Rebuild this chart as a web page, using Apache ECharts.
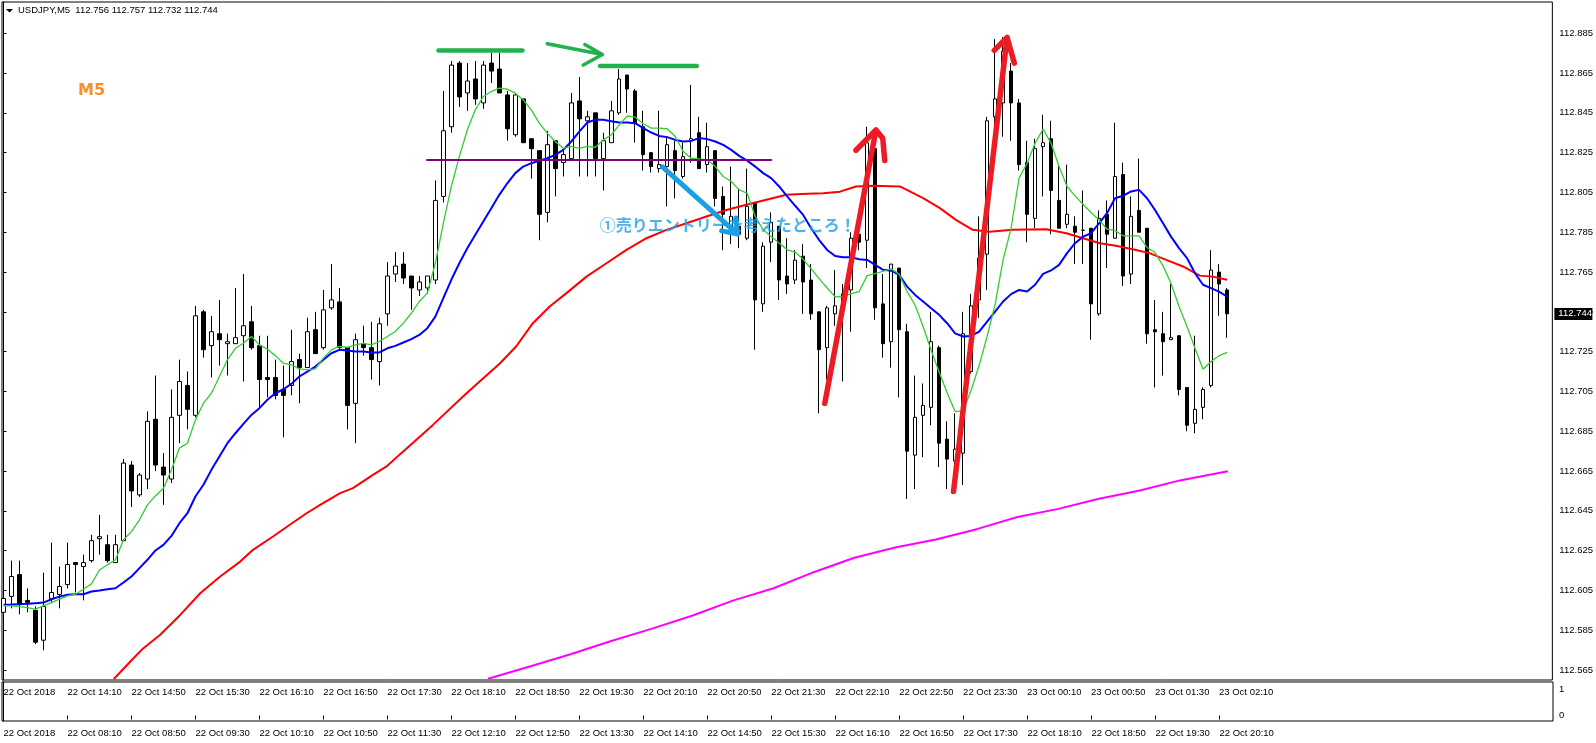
<!DOCTYPE html>
<html><head><meta charset="utf-8">
<script src="https://cdn.jsdelivr.net/npm/echarts@6/dist/echarts.min.js"></script>
<style>html,body{margin:0;padding:0;background:#fff;}#c{width:1596px;height:743px;}</style>
</head><body><div id="c"></div>
<script>
const symbolName = 'USDJPY,M5';
const frameLabel = 'M5';
// one row per 5-minute bar, 22 Oct 13:30 .. 23 Oct 02:15 : [open, high, low, close]
const candles = [
[112.594,112.605,112.589,112.601],[112.602,112.620,112.596,112.612],[112.613,112.620,112.593,112.598],[112.600,112.606,112.594,112.599],
[112.595,112.597,112.578,112.579],[112.580,112.614,112.575,112.597],[112.601,112.629,112.599,112.604],[112.603,112.617,112.596,112.607],
[112.608,112.629,112.606,112.618],[112.619,112.619,112.604,112.618],[112.617,112.623,112.600,112.619],[112.620,112.633,112.619,112.630],
[112.631,112.643,112.623,112.632],[112.628,112.633,112.619,112.620],[112.619,112.633,112.619,112.628],[112.630,112.671,112.630,112.669],
[112.668,112.670,112.647,112.655],[112.653,112.664,112.652,112.663],[112.661,112.695,112.656,112.690],[112.691,112.713,112.665,112.668],
[112.667,112.674,112.648,112.663],[112.661,112.706,112.659,112.692],[112.693,112.721,112.679,112.710],[112.708,112.715,112.686,112.696],
[112.693,112.748,112.692,112.743],[112.745,112.746,112.722,112.726],[112.728,112.743,112.712,112.735],[112.734,112.751,112.718,112.731],
[112.729,112.734,112.713,112.730],[112.729,112.757,112.729,112.732],[112.733,112.764,112.710,112.738],[112.740,112.748,112.726,112.727],
[112.728,112.733,112.697,112.711],[112.712,112.733,112.702,112.711],[112.712,112.721,112.701,112.703],[112.706,112.718,112.682,112.703],
[112.708,112.736,112.703,112.720],[112.721,112.724,112.699,112.717],[112.717,112.742,112.717,112.735],[112.736,112.745,112.724,112.724],
[112.727,112.756,112.726,112.746],[112.747,112.769,112.746,112.751],[112.750,112.757,112.726,112.727],[112.727,112.727,112.686,112.698],
[112.699,112.734,112.679,112.731],[112.729,112.738,112.723,112.727],[112.727,112.740,112.711,112.721],[112.720,112.742,112.708,112.739],
[112.744,112.770,112.738,112.763],[112.764,112.775,112.760,112.768],[112.769,112.775,112.759,112.762],[112.763,112.763,112.746,112.757],
[112.756,112.763,112.753,112.760],[112.757,112.763,112.754,112.763],[112.761,112.811,112.759,112.801],[112.803,112.856,112.800,112.836],
[112.838,112.871,112.835,112.869],[112.870,112.871,112.848,112.853],[112.855,112.870,112.846,112.861],[112.862,112.871,112.849,112.852],
[112.850,112.871,112.847,112.869],[112.870,112.875,112.860,112.866],[112.867,112.875,112.855,112.855],[112.854,112.856,112.831,112.837],
[112.834,112.855,112.833,112.854],[112.852,112.852,112.830,112.830],[112.832,112.832,112.812,112.827],[112.826,112.826,112.781,112.794],
[112.795,112.836,112.790,112.829],[112.831,112.831,112.803,112.817],[112.820,112.827,112.813,112.824],[112.822,112.855,112.822,112.850],
[112.851,112.863,112.813,112.842],[112.841,112.846,112.813,112.843],[112.845,112.845,112.813,112.822],[112.822,112.835,112.806,112.831],
[112.830,112.851,112.830,112.846],[112.845,112.867,112.844,112.862],[112.864,112.864,112.845,112.857],[112.856,112.857,112.830,112.840],
[112.838,112.846,112.816,112.824],[112.825,112.825,112.815,112.818],[112.817,112.846,112.815,112.819],[112.818,112.833,112.798,112.829],
[112.826,112.831,112.802,112.816],[112.813,112.830,112.812,112.823],[112.831,112.859,112.820,112.832],[112.835,112.843,112.817,112.817],
[112.819,112.840,112.815,112.828],[112.826,112.826,112.798,112.802],[112.803,112.808,112.776,112.794],[112.786,112.818,112.779,112.793],
[112.788,112.807,112.777,112.784],[112.782,112.817,112.781,112.798],[112.800,112.800,112.726,112.751],[112.749,112.780,112.745,112.778],
[112.780,112.795,112.770,112.790],[112.788,112.788,112.751,112.761],[112.763,112.782,112.754,112.759],[112.761,112.776,112.759,112.771],
[112.773,112.779,112.744,112.760],[112.761,112.769,112.741,112.744],[112.745,112.745,112.694,112.726],[112.727,112.748,112.711,112.747],
[112.744,112.766,112.738,112.748],[112.754,112.759,112.710,112.747],[112.756,112.785,112.735,112.782],[112.784,112.790,112.776,112.780],
[112.781,112.838,112.767,112.830],[112.827,112.837,112.741,112.747],[112.749,112.764,112.722,112.729],[112.730,112.769,112.717,112.769],
[112.767,112.767,112.702,112.736],[112.735,112.739,112.651,112.675],[112.673,112.713,112.656,112.692],[112.693,112.709,112.672,112.698],
[112.697,112.745,112.688,112.730],[112.727,112.728,112.667,112.679],[112.681,112.690,112.656,112.671],[112.670,112.694,112.656,112.676],
[112.674,112.745,112.658,112.734],[112.715,112.754,112.714,112.748],[112.751,112.793,112.742,112.772],[112.774,112.843,112.756,112.841],
[112.843,112.882,112.833,112.852],[112.850,112.883,112.833,112.876],[112.866,112.870,112.831,112.850],[112.850,112.852,112.816,112.819],
[112.820,112.831,112.780,112.794],[112.792,112.832,112.787,112.827],[112.828,112.844,112.803,112.830],[112.832,112.841,112.784,112.806],
[112.801,112.819,112.787,112.787],[112.789,112.819,112.787,112.794],[112.788,112.793,112.769,112.785],[112.786,112.806,112.769,112.786],
[112.787,112.787,112.731,112.749],[112.744,112.796,112.743,112.792],[112.794,112.801,112.767,112.784],[112.782,112.840,112.782,112.813],
[112.814,112.820,112.758,112.763],[112.764,112.803,112.759,112.793],[112.796,112.822,112.785,112.785],[112.787,112.787,112.729,112.734],
[112.736,112.751,112.707,112.735],[112.734,112.745,112.713,112.730],[112.731,112.759,112.731,112.732],[112.733,112.733,112.703,112.706],
[112.707,112.707,112.685,112.688],[112.689,112.733,112.684,112.696],[112.697,112.707,112.691,112.706],[112.708,112.776,112.707,112.766],
[112.765,112.769,112.743,112.759],[112.756,112.757,112.732,112.744]
];
// moving averages (one value per bar)
const maGreen = [
112.5973,112.5973,112.5969,112.5964,112.5956,112.5973,112.5989,112.6006,112.6023,112.6031,112.6056,112.6083,112.6153,112.6179,112.6204,112.6304,112.6346,112.6405,112.6480,112.6525,
112.6564,112.6656,112.6765,112.6790,112.6907,112.6991,112.7041,112.7125,112.7209,112.7267,112.7292,112.7326,112.7284,112.7262,112.7230,112.7192,112.7184,112.7163,112.7158,112.7163,
112.7217,112.7259,112.7276,112.7272,112.7284,112.7292,112.7284,112.7301,112.7326,112.7351,
112.7393,112.7443,112.7502,112.7544,112.7694,112.7895,112.8080,112.8230,112.8364,112.8465,112.8532,112.8557,112.8574,112.8569,112.8549,112.8515,112.8465,112.8398,112.8348,112.8306,
112.8272,112.8281,112.8272,112.8281,112.8277,112.8314,112.8339,112.8390,112.8435,112.8428,112.8395,112.8373,112.8373,112.8370,112.8331,112.8256,112.8222,112.8219,112.8214,112.8180,
112.8130,112.8105,112.8063,112.8046,112.7929,112.7862,112.7829,112.7795,112.7762,112.7750,
112.7714,112.7666,112.7617,112.7570,112.7525,112.7527,112.7542,112.7552,112.7632,112.7642,112.7654,112.7666,112.7639,112.7552,112.7483,112.7376,112.7257,112.7148,112.7044,112.6949,
112.6952,112.7056,112.7180,112.7326,112.7488,112.7711,
112.7870,112.8122,112.8197,112.8297,112.8368,112.8297,112.8180,112.8080,112.8033,112.7991,112.7949,112.7912,112.7865,112.7859,112.7832,112.7832,112.7832,112.7773,112.7748,112.7681,
112.7594,112.7477,112.7376,112.7267,112.7162,112.7200,112.7229,112.7246
];
const maBlue = [
112.5978,112.5979,112.5981,112.5983,112.5986,112.5989,112.6006,112.6019,112.6028,112.6031,112.6031,112.6045,112.6050,112.6056,112.6061,112.6090,112.6120,112.6162,112.6204,112.6251,
112.6279,112.6324,112.6388,112.6438,112.6522,112.6581,112.6656,112.6723,112.6790,112.6840,112.6887,112.6932,112.6966,112.7008,112.7041,112.7061,112.7088,112.7125,112.7150,112.7175,
112.7209,112.7242,112.7259,112.7256,112.7251,112.7251,112.7246,112.7246,112.7267,112.7279,
112.7296,112.7313,112.7334,112.7368,112.7426,112.7519,112.7611,112.7694,112.7770,112.7837,112.7904,112.7971,112.8038,112.8096,112.8147,112.8180,112.8197,112.8209,112.8222,112.8239,
112.8264,112.8306,112.8356,112.8401,112.8415,112.8415,112.8408,112.8401,112.8401,112.8398,112.8373,112.8351,112.8334,112.8328,112.8314,112.8306,112.8309,112.8323,112.8318,112.8306,
112.8289,112.8264,112.8234,112.8210,112.8180,112.8147,112.8122,112.8080,112.8030,112.7983,
112.7937,112.7870,112.7811,112.7761,112.7731,112.7724,112.7724,112.7714,112.7711,112.7686,112.7661,112.7657,112.7636,112.7577,112.7535,112.7502,112.7468,112.7435,112.7393,112.7342,
112.7326,112.7329,112.7351,112.7401,112.7451,112.7502,
112.7539,112.7560,112.7552,112.7586,112.7641,112.7658,112.7686,112.7745,112.7795,112.7828,112.7845,112.7895,112.7946,112.8021,112.8033,112.8055,112.8063,112.8021,112.7962,112.7895,
112.7828,112.7770,112.7720,112.7644,112.7586,112.7569,112.7552,112.7527
];
// slow averages read at [bar index, price]
const maRed = [
[13.8,112.5605],[16.1,112.5703],[17.5,112.5760],[19.6,112.5827],[22.1,112.5927],[24.6,112.6036],[27.1,112.6120],[29.6,112.6195],[31.2,112.6254],[33.7,112.6321],
[35.8,112.6380],[37.9,112.6438],[39.6,112.6480],[42.1,112.6539],[43.7,112.6564],[46.2,112.6631],[47.9,112.6673],[49.6,112.6735],[53.7,112.6882],[57.9,112.7041],
[62.1,112.7192],[64.1,112.7276],[66.2,112.7393],[68.3,112.7477],[70.4,112.7544],[72.9,112.7627],[75.4,112.7694],[77.9,112.7761],[80.4,112.7820],[82.9,112.7862],
[85.4,112.7895],[87.9,112.7929],[90.4,112.7962],[92.9,112.7988],[95.4,112.8013],[97.9,112.8038],[100.5,112.8044],[102.5,112.8046],[104.6,112.8054],[106.6,112.8080],
[108.7,112.8084],[112.1,112.8080],[115,112.8021],[117.1,112.7971],[119.1,112.7912],[121.2,112.7862],[123.3,112.7853],[126.2,112.7862],[130.4,112.7865],[132.9,112.7845],
[135,112.7820],[137.1,112.7795],[139.1,112.7782],[141.2,112.7765],[143.3,112.7745],[145.4,112.7711],[147.5,112.7678],[149.6,112.7632],[151.2,112.7627],[153,112.7611]
];
const maMagenta = [
[60.6,112.5606],[65.7,112.5667],[70.8,112.5728],[75.9,112.5795],[81,112.5857],[86.1,112.5923],[91.2,112.5999],[96.3,112.6061],[101.4,112.6143],[106.4,112.6214],
[111.5,112.6266],[116.6,112.6306],[121.7,112.6358],[126.8,112.6419],[131.9,112.6460],[137,112.6511],[142.1,112.6552],[147.1,112.6603],[153.1,112.6649]
];
const priceTicks = [112.565,112.585,112.605,112.625,112.645,112.665,112.685,112.705,112.725,112.745,112.765,112.785,112.805,112.825,112.845,112.865,112.885];
const timeLabelsMain = ['22 Oct 2018','22 Oct 14:10','22 Oct 14:50','22 Oct 15:30','22 Oct 16:10','22 Oct 16:50','22 Oct 17:30','22 Oct 18:10','22 Oct 18:50','22 Oct 19:30',
'22 Oct 20:10','22 Oct 20:50','22 Oct 21:30','22 Oct 22:10','22 Oct 22:50','22 Oct 23:30','23 Oct 00:10','23 Oct 00:50','23 Oct 01:30','23 Oct 02:10'];
const timeLabelsSub = ['22 Oct 2018','22 Oct 08:10','22 Oct 08:50','22 Oct 09:30','22 Oct 10:10','22 Oct 10:50','22 Oct 11:30','22 Oct 12:10','22 Oct 12:50','22 Oct 13:30',
'22 Oct 14:10','22 Oct 14:50','22 Oct 15:30','22 Oct 16:10','22 Oct 16:50','22 Oct 17:30','22 Oct 18:10','22 Oct 18:50','22 Oct 19:30','22 Oct 20:10'];
const barsPerLabel = 8;
const subTicks = [0, 1];
// hand-drawn annotations, in [bar index, price]
const annPurpleLine = [[52.97,112.8213],[96.0,112.8213]];
const annGreenBar1 = [[54.4,112.8763],[64.9,112.8763]];
const annGreenBar2 = [[74.6,112.8685],[86.7,112.8685]];
const annGreenArrow = [[68.0,112.8797],[74.9,112.8743],[72.7,112.8793],[74.9,112.8743],[72.5,112.8690]];
const annBlueArrow = [[82.4,112.8178],[91.8,112.7841],[89.8,112.7857],[91.8,112.7841],[91.6,112.7922]];
const annRedArrow1 = [[102.7,112.6990],[109.1,112.8364],[106.6,112.8262],[109.1,112.8364],[109.95,112.8322],[110.2,112.8211]];
const annRedArrow2 = [[118.8,112.6547],[125.5,112.8829],[123.9,112.8764],[125.5,112.8829],[126.4,112.8700]];
const annText = {at: [74.56, 112.7889], text: '①売りエントリーを考えたところ！'};

const FONT = '"Liberation Sans", Arial, sans-serif';
const xMin = -0.1875, xMax = 193.6875;
const last = candles[candles.length - 1];
const labelValues = timeLabelsMain.map((_, k) => k * barsPerLabel);

const chart = echarts.init(document.getElementById('c'), null, {renderer: 'canvas'});

function annLine(data, color, width, z) {
  return {type: 'line', data, symbol: 'none', silent: true, z, clip: false,
    lineStyle: {color, width, cap: 'round', join: 'round'}, xAxisIndex: 0, yAxisIndex: 0};
}

chart.setOption({
  animation: false,
  backgroundColor: '#fff',
  textStyle: {fontFamily: FONT},
  grid: [
    {left: 2, top: 2, width: 1551, height: 678, show: true, borderColor: '#000', borderWidth: 1, backgroundColor: 'transparent'},
    {left: 2, top: 682, width: 1551, height: 39, show: true, borderColor: '#000', borderWidth: 1, backgroundColor: 'transparent'}
  ],
  xAxis: [
    {type: 'value', gridIndex: 0, min: xMin, max: xMax, axisLine: {show: false}, axisTick: {show: false}, splitLine: {show: false},
     axisLabel: {customValues: labelValues, formatter: v => timeLabelsMain[Math.round(v / barsPerLabel)] || '', align: 'left',
       margin: 7, fontSize: 9.5, color: '#000', fontFamily: FONT}},
    {type: 'value', gridIndex: 1, min: xMin, max: xMax, axisLine: {show: false}, splitLine: {show: false},
     axisTick: {show: true, customValues: labelValues, length: 4, lineStyle: {color: '#000'}},
     axisLabel: {customValues: labelValues, formatter: v => timeLabelsSub[Math.round(v / barsPerLabel)] || '', align: 'left',
       margin: 7, fontSize: 9.5, color: '#000', fontFamily: FONT}}
  ],
  yAxis: [
    {type: 'value', gridIndex: 0, position: 'right', min: 112.5600, max: 112.9007, scale: true, splitLine: {show: false},
     axisLine: {show: true, lineStyle: {color: '#000'}},
     axisTick: {show: true, customValues: priceTicks, length: 3, lineStyle: {color: '#000'}},
     axisLabel: {customValues: priceTicks, formatter: v => v.toFixed(3), margin: 7, fontSize: 9.5, color: '#000', fontFamily: FONT}},
    {type: 'value', gridIndex: 1, position: 'right', min: -0.213, max: 1.298, splitLine: {show: false},
     axisLine: {show: true, lineStyle: {color: '#000'}}, axisTick: {show: false},
     axisLabel: {customValues: subTicks, formatter: v => String(v), margin: 6, fontSize: 9.5, color: '#000', fontFamily: FONT}}
  ],
  series: [
    {type: 'candlestick', xAxisIndex: 0, yAxisIndex: 0, z: 2, barWidth: 4,
     data: candles.map((c, i) => [i, c[0], c[3], c[2], c[1]]),
     encode: {x: 0, y: [1, 2, 3, 4]},
     itemStyle: {color: '#fff', color0: '#000', borderColor: '#000', borderColor0: '#000', borderWidth: 1}},
    {type: 'line', name: 'MA magenta', data: maMagenta, symbol: 'none', z: 3, lineStyle: {color: '#ff00ff', width: 2}},
    {type: 'line', name: 'MA red', data: maRed, symbol: 'none', z: 3, lineStyle: {color: '#ff0000', width: 2}},
    {type: 'line', name: 'MA blue', data: maBlue.map((p, i) => [i, p]), symbol: 'none', z: 3, lineStyle: {color: '#0000ff', width: 2}},
    {type: 'line', name: 'MA green', data: maGreen.map((p, i) => [i, p]), symbol: 'none', z: 3, lineStyle: {color: '#32cd32', width: 1.3}},
    {type: 'scatter', data: [annText.at], symbolSize: 0, z: 4, silent: true,
     label: {show: true, position: [0, 0], align: 'left', verticalAlign: 'middle', formatter: annText.text,
       fontSize: 16, fontWeight: 'bold', fontFamily: '"Noto Sans CJK JP", sans-serif', color: '#1f9fe4'}},
    annLine(annPurpleLine, '#800080', 2, 5),
    annLine(annGreenBar1, '#22b14c', 4.5, 5),
    annLine(annGreenBar2, '#22b14c', 4.5, 5),
    annLine(annGreenArrow, '#22b14c', 3.5, 5),
    annLine(annBlueArrow, '#1a9fe6', 5, 6),
    annLine(annRedArrow1, '#ed1c24', 5.5, 6),
    annLine(annRedArrow2, '#ed1c24', 5.5, 6)
  ]
});

// header, timeframe label and current-price box (box placed through the price axis)
const priceY = chart.convertToPixel({yAxisIndex: 0}, last[3]);
const axisX = chart.convertToPixel({xAxisIndex: 0}, xMax);
chart.setOption({
  graphic: [
    {type: 'polygon', shape: {points: [[6, 9], [13, 9], [9.5, 12.5]]}, style: {fill: '#000'}, silent: true},
    {type: 'text', left: 18, top: 5, silent: true,
     style: {text: symbolName + '  ' + last.map(v => v.toFixed(3)).join(' '), fontSize: 9.5, fontFamily: FONT, fill: '#000'}},
    {type: 'text', left: 78, top: 83, silent: true,
     style: {text: frameLabel, fontSize: 16, fontWeight: 'bold', fontFamily: '"DejaVu Sans", sans-serif', fill: '#ff8c2a'}},
    {type: 'rect', silent: true, z: 10, shape: {x: axisX + 2, y: Math.round(priceY) - 6, width: 38, height: 12}, style: {fill: '#000'}},
    {type: 'text', silent: true, z: 11, x: axisX + 6, y: priceY,
     style: {text: last[3].toFixed(3), fontSize: 9.5, fontFamily: FONT, fill: '#fff', verticalAlign: 'middle', align: 'left'}}
  ]
});
</script></body></html>
